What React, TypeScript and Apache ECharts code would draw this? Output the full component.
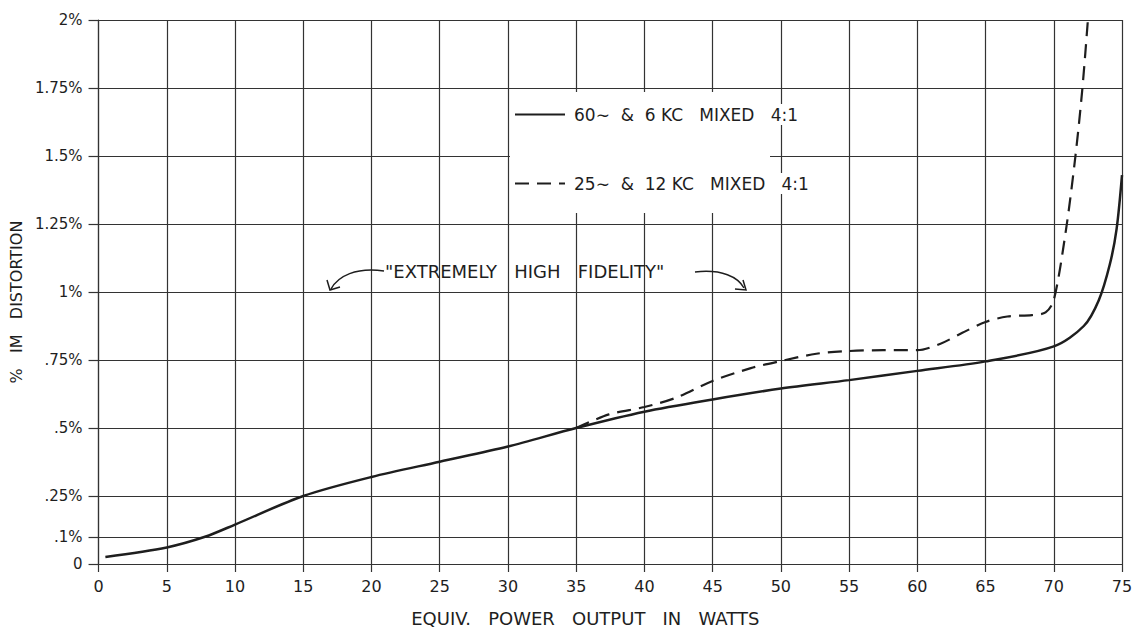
import React, { useEffect, useRef } from "react";
import * as echarts from "echarts";

// ---- data ----
const xTicksMax = 75;
const yTicks = [0, 0.1, 0.25, 0.5, 0.75, 1, 1.25, 1.5, 1.75, 2];
const yTickLabels = ["0", ".1%", ".25%", ".5%", ".75%", "1%", "1.25%", "1.5%", "1.75%", "2%"];

const solidName = "60∼  &  6 KC   MIXED   4:1";
const solidX = [0.5, 5, 7.8, 10, 15, 20, 25, 30, 35, 40, 45, 50, 55, 60, 65, 70, 72.2, 73.3, 74.1, 74.6, 75];
const solidY = [0.026, 0.061, 0.1, 0.145, 0.25, 0.32, 0.376, 0.432, 0.5, 0.56, 0.605, 0.645, 0.676, 0.71, 0.745, 0.8, 0.875, 0.97, 1.1, 1.23, 1.43];

const dashName = "25∼  &  12 KC   MIXED   4:1";
const dashX = [35, 37.4, 40, 42.3, 45, 47.8, 50, 52.6, 55, 57.5, 60, 61.7, 63.3, 65, 66.6, 68.4, 69.4, 70, 70.9, 71.6, 72.1, 72.5];
const dashY = [0.5, 0.55, 0.577, 0.611, 0.673, 0.72, 0.746, 0.773, 0.783, 0.786, 0.786, 0.81, 0.85, 0.89, 0.91, 0.915, 0.925, 0.97, 1.23, 1.505, 1.75, 2.0];

const annotationText = '"EXTREMELY   HIGH   FIDELITY"';

const ink = "#1e1e1e";
const gridInk = "#333";
const font = "DejaVu Sans";

export default function App() {
  const ref = useRef<HTMLDivElement>(null);
  useEffect(() => {
    if (!ref.current) return;
    const chart = echarts.init(ref.current, null, { renderer: "svg" });
    const gridLine = { color: gridInk, width: 1.2 };
    const fmtY = (v: number) => {
      const i = yTicks.findIndex((t) => Math.abs(t - v) < 1e-6);
      return i >= 0 ? yTickLabels[i] : "";
    };
    const option: any = {
      animation: false,
      backgroundColor: "#fff",
      textStyle: { fontFamily: font, color: ink },
      grid: { left: 91, right: 14, top: 20, bottom: 69 },
      xAxis: {
        type: "value",
        min: 0,
        max: xTicksMax,
        interval: 5,
        axisLine: { show: true, lineStyle: gridLine },
        axisTick: { show: true, inside: false, length: 8, lineStyle: gridLine },
        axisLabel: { margin: 14, fontSize: 16, color: ink, fontFamily: font },
        splitLine: { show: true, lineStyle: gridLine },
        name: "EQUIV.   POWER   OUTPUT   IN   WATTS",
        nameLocation: "middle",
        nameGap: 45,
        nameTextStyle: { fontSize: 18, color: ink, fontFamily: font, padding: [0, 50, 0, 0] },
      },
      yAxis: {
        type: "value",
        min: 0,
        max: 2,
        interval: 0.25,
        axisLine: { show: true, lineStyle: gridLine },
        axisTick: { show: true, inside: false, length: 10, lineStyle: gridLine, customValues: yTicks },
        axisLabel: { margin: 16, fontSize: 15, color: ink, fontFamily: font, customValues: yTicks, formatter: fmtY },
        splitLine: { show: false },
        name: "%   IM   DISTORTION",
        nameLocation: "middle",
        nameRotate: 90,
        nameGap: 62,
        nameTextStyle: { fontSize: 16, color: ink, fontFamily: font, padding: [0, 20, 0, 0] },
      },
      legend: {
        orient: "vertical",
        left: 514,
        top: 104,
        itemGap: 48,
        itemWidth: 50,
        itemHeight: 14,
        padding: 0,
        z: 10,
        data: [solidName, dashName],
        itemStyle: { opacity: 0 },
        textStyle: { fontSize: 17, color: ink, fontFamily: font, backgroundColor: "#fff", padding: [2, 4] },
      },
      graphic: [
        { type: "rect", left: 510, top: 92, z: 5, shape: { width: 260, height: 121 }, style: { fill: "#fff" } },
        {
          type: "text",
          left: 385,
          top: 262,
          z: 6,
          style: { text: annotationText, font: `18px "${font}"`, fill: ink },
        },
        {
          type: "bezierCurve",
          z: 6,
          shape: { x1: 384, y1: 271, x2: 331, y2: 289, cpx1: 356, cpy1: 267, cpx2: 338, cpy2: 276 },
          style: { stroke: ink, lineWidth: 1.5, fill: "none" },
        },
        {
          type: "polyline",
          z: 6,
          shape: { points: [[327, 280], [330, 290], [340, 287]] },
          style: { stroke: ink, lineWidth: 1.5, fill: "none" },
        },
        {
          type: "bezierCurve",
          z: 6,
          shape: { x1: 695, y1: 272, x2: 744, y2: 288, cpx1: 722, cpy1: 269, cpx2: 738, cpy2: 277 },
          style: { stroke: ink, lineWidth: 1.5, fill: "none" },
        },
        {
          type: "polyline",
          z: 6,
          shape: { points: [[735, 289], [746, 290], [743, 280]] },
          style: { stroke: ink, lineWidth: 1.5, fill: "none" },
        },
      ],
      series: [
        {
          name: solidName,
          type: "line",
          data: solidX.map((x, i) => [x, solidY[i]]),
          symbol: "none",
          smooth: 0.3,
          lineStyle: { color: ink, width: 2.5, type: "solid" },
          itemStyle: { color: ink },
          z: 3,
          markLine: {
            silent: true,
            symbol: "none",
            label: { show: false },
            lineStyle: { color: gridInk, width: 1.2, type: "solid" },
            data: yTicks.map((v) => ({ yAxis: v })),
            z: 1,
          },
        },
        {
          name: dashName,
          type: "line",
          data: dashX.map((x, i) => [x, dashY[i]]),
          symbol: "none",
          smooth: 0.3,
          lineStyle: { color: ink, width: 2.2, type: [14, 8] },
          itemStyle: { color: ink },
          z: 3,
        },
      ],
    };
    chart.setOption(option);
    return () => chart.dispose();
  }, []);
  return (
    <div
      ref={ref}
      style={{ position: "fixed", left: 0, top: 0, width: 1136, height: 633, background: "#fff" }}
    />
  );
}
